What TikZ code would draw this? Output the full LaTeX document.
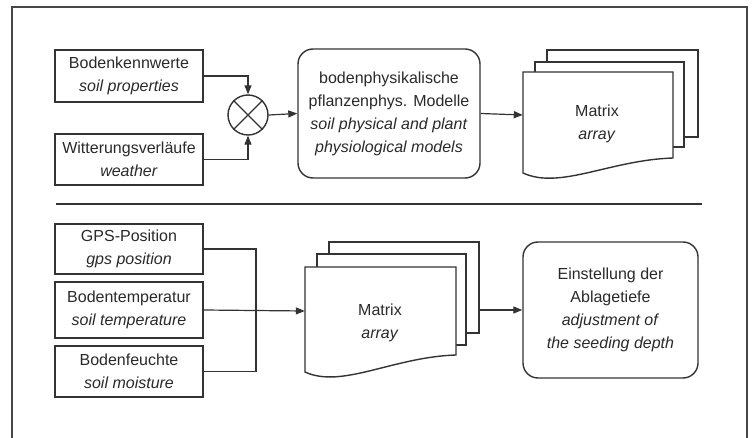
\documentclass[tikz,border=0pt]{standalone}
\usepackage{fontspec}
\setmainfont{Liberation Sans}
\usetikzlibrary{arrows.meta,calc}
\definecolor{ln}{HTML}{333333}
\definecolor{tx}{HTML}{2a2a2a}
\tikzset{
  box/.style={draw=ln, line width=1.4pt, fill=white, rectangle, inner sep=0pt, align=center, text=tx},
  rbox/.style={box, rounded corners=15pt},
  sheet/.style={draw=ln, line width=1.4pt, fill=white, rectangle, inner sep=0pt},
  ghost/.style={rectangle, inner sep=0pt},
  lbl/.style={align=center, text=tx, inner sep=0pt},
  conn/.style={draw=ln, line width=1.2pt},
  arr/.style={conn, -{Triangle[length=9pt,width=7pt]}},
  frameline/.style={draw=ln!90, line width=1.5pt}
}
\newcommand{\txt}{\fontsize{16pt}{23pt}\selectfont}
\begin{document}
\begin{tikzpicture}[x=1pt,y=-1pt, font=\txt]
\useasboundingbox (0,0) rectangle (752,438);
% outer frame (open at bottom)
\draw[frameline] (12,438) -- (12,7) -- (747,7) -- (747,438);
% separator
\coordinate (sepL) at (56,204);
\coordinate (sepR) at (702,204);
\draw[conn, line width=1.3pt] (sepL) -- (sepR);

% ---------- top row ----------
\node[box, minimum width=148pt, minimum height=52pt] (bk) at (129,76) {Bodenkennwerte\\\textit{soil properties}};
\node[box, minimum width=148pt, minimum height=51pt] (wv) at (129,159.5) {Witterungsverläufe\\\textit{weather}};
\node[draw=ln, line width=1.4pt, circle, minimum size=40pt, inner sep=0pt] (mix) at (248,115) {};
\draw[ln, line width=1.1pt] (mix.north east) -- (mix.south west) (mix.north west) -- (mix.south east);
\node[rbox, minimum width=182pt, minimum height=129pt] (model) at (389,113.5)
  {bodenphysikalische\\pflanzenphys. Modelle\\\textit{soil physical and plant}\\\textit{physiological models}};

% matrix stack top
\node[sheet, minimum width=151pt, minimum height=87pt] (m1c) at (622.5,93.5) {};
\node[sheet, minimum width=149pt, minimum height=85pt] (m1b) at (609.5,104.5) {};
\draw[draw=ln, line width=1.4pt, fill=white] (523,72) -- (673,72) -- (673,158)
  .. controls (610,160) and (560,190) .. (523,173) -- cycle;
\node[ghost, minimum width=150pt, minimum height=86pt] (m1) at (598,115) {};
\node[lbl] (m1t) at (597,124) {Matrix\\\textit{array}};

\draw[arr] (bk.east) -| (mix.north);
\draw[arr] (wv.east) -| (mix.south);
\draw[arr] (mix.east) -- (model.west);
\draw[arr] (model.east) -- (m1.west);

% ---------- bottom row ----------
\node[box, minimum width=148pt, minimum height=50pt] (gps) at (129,249) {GPS-Position\\\textit{gps position}};
\node[box, minimum width=148pt, minimum height=56pt] (temp) at (129,310) {Bodentemperatur\\\textit{soil temperature}};
\node[box, minimum width=148pt, minimum height=51pt] (feu) at (129,371.5) {Bodenfeuchte\\\textit{soil moisture}};

\node[sheet, minimum width=150pt, minimum height=91pt] (m2c) at (404,287.5) {};
\node[sheet, minimum width=149pt, minimum height=91pt] (m2b) at (391.5,299.5) {};
\draw[draw=ln, line width=1.4pt, fill=white] (305,267) -- (456,267) -- (456,355)
  .. controls (393,357) and (342,389) .. (305,372) -- cycle;
\node[ghost, minimum width=151pt, minimum height=88pt] (m2) at (380.5,311) {};
\node[lbl] (m2t) at (380,322.5) {Matrix\\\textit{array}};

\node[rbox, minimum width=175pt, minimum height=136pt] (ein) at (610.5,310)
  {Einstellung der\\Ablagetiefe\\\textit{adjustment of}\\\textit{the seeding depth}};

\coordinate (jx) at (256,300);
\draw[conn] (gps.east) -| (jx |- feu.east) -- (feu.east);
\draw[arr] (temp.east) -- (m2.west);
\draw[arr] (m2c.east |- ein.west) -- (ein.west);
\end{tikzpicture}
\end{document}
